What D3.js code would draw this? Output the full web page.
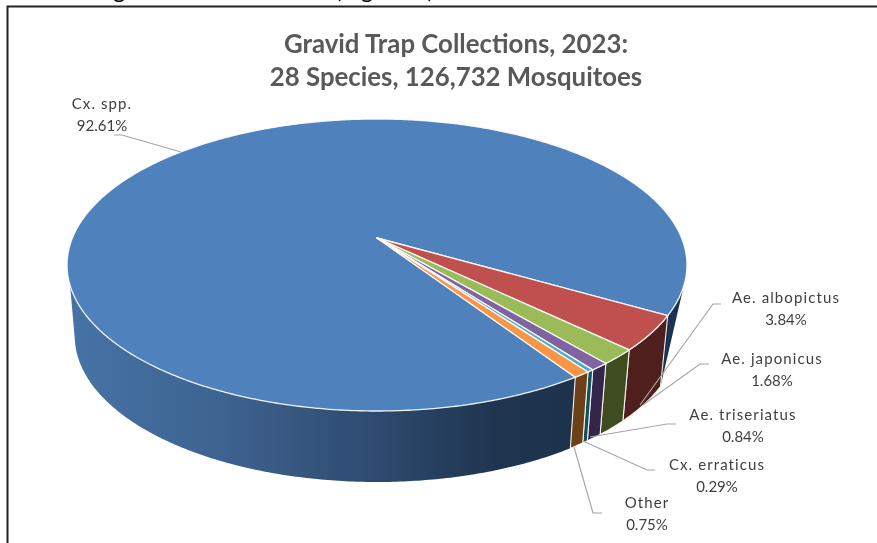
<!DOCTYPE html>
<html><head><meta charset="utf-8">
<script src="https://cdn.jsdelivr.net/npm/d3@7/dist/d3.min.js"></script>
<style>html,body{margin:0;padding:0;background:#fff}svg{display:block;filter:blur(0.35px)}text{font-family:Lato,"Open Sans",sans-serif}</style>
</head><body><svg id="c" width="877" height="543"></svg>
<script>
const categories = ["Cx. spp.","Ae. albopictus","Ae. japonicus","Ae. triseriatus","Cx. erraticus","Other"];
const shares = [92.61,3.84,1.68,0.84,0.29,0.75];
const topColors = ["#4f81bd","#c0504d","#9bbb59","#8064a2","#4bacc6","#f79646"];
const wallColors = ["#1c3350","#4e1f1c","#3e4c20","#33264a","#14505c","#6d4117"];
const titleLines = ["Gravid Trap Collections, 2023:","28 Species, 126,732 Mosquitoes"];
const labelPos = [[102,109],[786,303],[772,364],[743,420],[717,470],[647,508]];
const leaders = [[[114,135],[122,135],[181,152]],[[721,304],[713,304],[640,405]],[[709,364],[700,364],[643,405]],[[676,424],[667,424],[590,437]],[[655,470],[647,470],[583,441]],[[602,513],[593,513],[574,447]]];

const svg = d3.select("#c");
const rad = Math.PI/180;
const start = 146.6*rad;
const pie = d3.pie().sort(null).value(d=>d).startAngle(start).endAngle(start+2*Math.PI);
const arcs = pie(shares);
const k=0.185;
function proj(a,o){ const c=Math.cos(a), s=Math.sin(a), w=1+k*c;
  return [o.cx+o.A*s/w, o.cy-o.B*c/w]; }
const top3d={cx:377,cy:238,A:304.6,B:141};
const bot3d={cx:377,cy:309,A:297,B:141};
const line=d3.line();
function rim(a0,a1,o){ const n=Math.max(2,Math.ceil(Math.abs(a1-a0)/0.01)); return d3.range(n+1).map(i=>proj(a0+(a1-a0)*i/n,o)); }

// frame
svg.append("path").attr("d","M7.5,543V6.5H877").attr("fill","none").attr("stroke","#222").attr("stroke-width",2);
// text cut off by the top of the reference picture
const cropped=[["g",113],["(Figure 1)",335]];
svg.selectAll("text.crop").data(cropped).join("text").attr("class","crop").attr("x",d=>d[1]).attr("y",-2).attr("font-size",24).attr("fill","#000").text(d=>d[0]);

const defs=svg.append("defs");
const g=defs.append("linearGradient").attr("id","wall").attr("gradientUnits","userSpaceOnUse").attr("x1",68).attr("x2",575).attr("y1",0).attr("y2",0);
[[0,"#4673a6"],[0.3,"#3e6390"],[0.6,"#2f4b70"],[0.85,"#1f344f"],[1,"#1d324c"]].forEach(s=>g.append("stop").attr("offset",s[0]).attr("stop-color",s[1]));

// walls: blue side pieces, then the small slices
const wallSeg=(t0,t1,b1,b0)=>line(rim(t0,t1,top3d).concat(rim(b1,b0,bot3d)))+"Z";
const d0=arcs[0];
const blueEnd=d0.endAngle-2*Math.PI, blueStart=d0.startAngle;
svg.append("path").attr("d",wallSeg(108.5*rad,blueEnd,blueEnd,blueEnd)).attr("fill",wallColors[0]);
svg.append("path").attr("d",wallSeg(blueStart,251.5*rad,256.4*rad,blueStart)).attr("fill","url(#wall)");
const small=arcs.slice(1);
svg.selectAll("path.w").data(small).join("path").attr("class","w")
  .attr("d",d=>wallSeg(d.startAngle,d.endAngle,d.endAngle,d.startAngle)).attr("fill",(d,i)=>wallColors[i+1]).attr("stroke","#fff").attr("stroke-opacity",.9).attr("stroke-width",1.1);
// tops
const sliceD=d=>line([[top3d.cx,top3d.cy]].concat(rim(d.startAngle,d.endAngle,top3d)))+"Z";
svg.selectAll("path.t").data(arcs).join("path").attr("class","t").attr("d",sliceD)
  .attr("fill",(d,i)=>topColors[i]).attr("stroke","#fff").attr("stroke-opacity",.9).attr("stroke-width",1.3).attr("stroke-linejoin","round");
// leaders
svg.selectAll("path.l").data(leaders).join("path").attr("class","l").attr("d",d=>line(d)).attr("fill","none").attr("stroke","#a6a6a6").attr("stroke-width",1.2);
// labels
const labels=svg.selectAll("g.lab").data(categories).join("g").attr("class","lab");
labels.append("text").attr("x",(d,i)=>labelPos[i][0]).attr("y",(d,i)=>labelPos[i][1]).attr("text-anchor","middle").attr("font-size",15).attr("letter-spacing",1.1).attr("fill","#404040").text(d=>d);
labels.append("text").attr("x",(d,i)=>labelPos[i][0]).attr("y",(d,i)=>labelPos[i][1]+22).attr("text-anchor","middle").attr("font-size",15).attr("fill","#404040").text((d,i)=>shares[i].toFixed(2)+"%");
// title
svg.selectAll("text.title").data(titleLines).join("text").attr("class","title").attr("x",456).attr("y",(d,i)=>53+i*33).attr("text-anchor","middle").attr("font-size",25.8).attr("font-weight",700).attr("fill","#595959").text(d=>d);
</script></body></html>
